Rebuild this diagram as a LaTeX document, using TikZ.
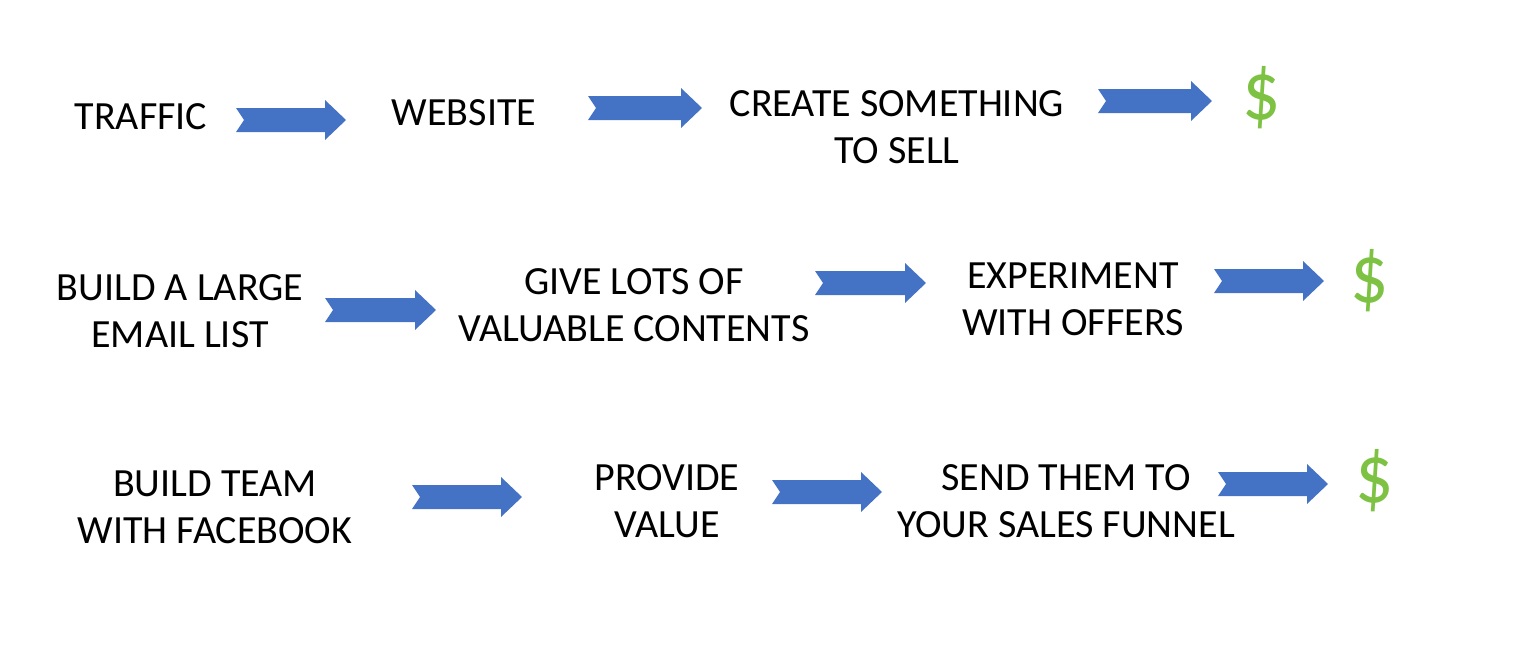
\documentclass[tikz,border=0pt]{standalone}
\usepackage{fontspec}
\setmainfont{Carlito}
\usepackage{tikz}
\usepackage{xcolor}
\usetikzlibrary{calc}

\definecolor{arrowblue}{HTML}{4472C4}
\definecolor{moneygreen}{HTML}{7DC243}

\tikzset{
  step label/.style={font=\fontsize{20}{23.5}\selectfont, align=center, inner sep=0pt},
  money/.style={font=\fontsize{42}{44}\selectfont, text=moneygreen, inner sep=0pt, xscale=0.9},
  chevron/.style={fill=arrowblue, draw=none,
    to path={($(\tikztostart)+(0,-12)$) -- ($(\tikztotarget)+(-21,-12)$)
      -- ($(\tikztotarget)+(-21,-20)$) -- (\tikztotarget)
      -- ($(\tikztotarget)+(-21,20)$) -- ($(\tikztotarget)+(-21,12)$)
      -- ($(\tikztostart)+(0,12)$) -- ($(\tikztostart)+(8,0)$) -- cycle}}
}

\begin{document}
\begin{tikzpicture}[x=0.5pt, y=-0.5pt]
\useasboundingbox (0,0) rectangle (1522,664);

% first row
\node[step label] (traffic) at (141,117) {TRAFFIC};
\node[step label] (website) at (464,113) {WEBSITE};
\node[step label] (create) at (897,127) {CREATE SOMETHING\\TO SELL};
\node[money] (dollarA) at (1262,98) {\$};

% second row
\node[step label] (emaillist) at (180,311) {BUILD A LARGE\\EMAIL LIST};
\node[step label] (content) at (634,305) {GIVE LOTS OF\\VALUABLE CONTENTS};
\node[step label] (offers) at (1073,299) {EXPERIMENT\\WITH OFFERS};
\node[money] (dollarB) at (1370,281) {\$};

% third row
\node[step label] (team) at (215,507) {BUILD TEAM\\WITH FACEBOOK};
\node[step label] (value) at (667,501) {PROVIDE\\VALUE};
\node[step label] (funnel) at (1066,501) {SEND THEM TO\\YOUR SALES FUNNEL};
\node[money] (dollarC) at (1375,481) {\$};

% block arrows
\foreach \n/\xa/\xb/\y in {ra/236/346/120, rb/588/702/108, rc/1098/1212/101,
    sa/325/436/310, sb/815/926/283, sc/1214/1324/281,
    ta/412/522/497, tb/772/882/492, tc/1218/1328/484} {
  \coordinate (\n tail) at (\xa,\y);
  \coordinate (\n tip) at (\xb,\y);
  \draw[chevron] (\n tail) to (\n tip);
}
\end{tikzpicture}
\end{document}
